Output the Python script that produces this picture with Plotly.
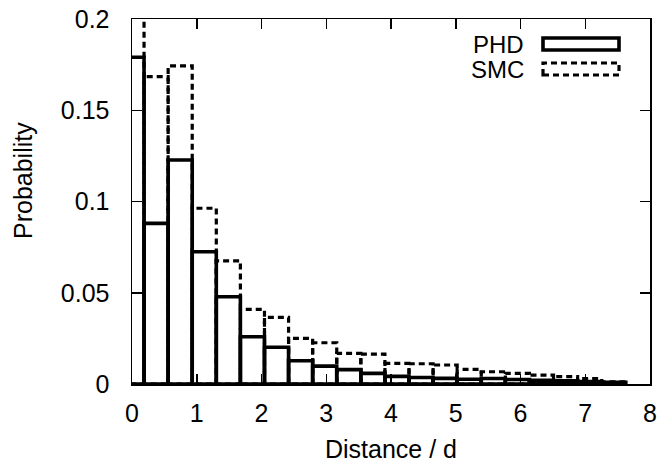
import plotly.graph_objects as go

bin_width = 0.372
phd = [0.179, 0.088, 0.1227, 0.0725, 0.0478, 0.0259, 0.0201, 0.0127, 0.0098, 0.0079,
       0.0058, 0.0042, 0.0036, 0.0031, 0.0026, 0.0030, 0.0025, 0.0020, 0.0017, 0.0013, 0.0009]
smc = [0.205, 0.1684, 0.1743, 0.0963, 0.0675, 0.0409, 0.0365, 0.0250, 0.0226, 0.0168,
       0.0164, 0.0113, 0.0111, 0.0104, 0.0080, 0.0067, 0.0058, 0.0049, 0.0040, 0.0030, 0.0012]
x_ticks = [0, 1, 2, 3, 4, 5, 6, 7, 8]
y_ticks = [0, 0.05, 0.1, 0.15, 0.2]
y_tick_labels = ["0", "0.05", "0.1", "0.15", "0.2"]

FONT = "Liberation Sans, Arial, Helvetica, sans-serif"
FS = 25

# plot area in page pixels
PL, PR, PT, PB = 132, 650, 19, 384


def px2paper(x, y):
    return (x - PL) / (PR - PL), (PB - y) / (PB - PT)


def box_path(values, width):
    xs, ys = [], []
    for i, h in enumerate(values):
        c = i * width
        l, r = c - width / 2, c + width / 2
        xs += [l, l, r, r, l, None]
        ys += [0, h, h, 0, 0, None]
    return xs, ys


fig = go.Figure()
px, py = box_path(phd, bin_width)
fig.add_trace(go.Scatter(x=px, y=py, mode="lines", name="PHD",
                         line=dict(color="black", width=3.6), showlegend=False,
                         hoverinfo="skip"))
sx, sy = box_path(smc, bin_width)
fig.add_trace(go.Scatter(x=sx, y=sy, mode="lines", name="SMC",
                         line=dict(color="black", width=3.2, dash="6px,4px"),
                         showlegend=False, hoverinfo="skip"))

axis_common = dict(showline=True, linecolor="black", linewidth=1.5, mirror="ticks",
                   ticks="inside", ticklen=10, tickwidth=1.5, tickcolor="black",
                   showgrid=False, zeroline=False, ticklabeloverflow="allow",
                   automargin=False,
                   tickfont=dict(family=FONT, size=FS, color="black"))

fig.update_xaxes(range=[0, 8], tickvals=x_ticks, ticklabelstandoff=6, **axis_common)
fig.update_yaxes(range=[0, 0.2], tickvals=y_ticks, ticktext=y_tick_labels,
                 ticklabelstandoff=16, **axis_common)

# legend drawn as text + sample rectangles
legend_items = [("PHD", "solid", 3.6), ("SMC", "6px,4px", 3.2)]
for k, (label, dash, lw) in enumerate(legend_items):
    yc_px = 44 + k * 25
    tx, ty = px2paper(526, yc_px)
    x0, y0 = px2paper(543, yc_px + 6)
    x1, y1 = px2paper(619, yc_px - 6)
    fig.add_annotation(text=label, xref="paper", yref="paper", x=tx, y=ty,
                       xanchor="right", yanchor="middle", showarrow=False,
                       font=dict(family=FONT, size=24, color="black"))
    fig.add_shape(type="rect", xref="paper", yref="paper", x0=x0, x1=x1, y0=y0, y1=y1,
                  line=dict(color="black", width=lw, dash=dash))

ax, ay = px2paper(391, 449)
fig.add_annotation(text="Distance / d", xref="paper", yref="paper", x=ax, y=ay,
                   xanchor="center", yanchor="middle", showarrow=False,
                   font=dict(family=FONT, size=FS, color="black"))
bx, by = px2paper(23, 181)
fig.add_annotation(text="Probability", xref="paper", yref="paper", x=bx, y=by,
                   xanchor="center", yanchor="middle", textangle=-90, showarrow=False,
                   font=dict(family=FONT, size=FS, color="black"))

fig.update_layout(width=660, height=464,
                  margin=dict(l=PL, r=660 - PR, t=PT, b=464 - PB),
                  plot_bgcolor="white", paper_bgcolor="white")

fig.write_html("out.html", config={"displayModeBar": False, "staticPlot": True},
               post_script="document.body.style.margin='0';document.body.style.overflow='hidden';")
